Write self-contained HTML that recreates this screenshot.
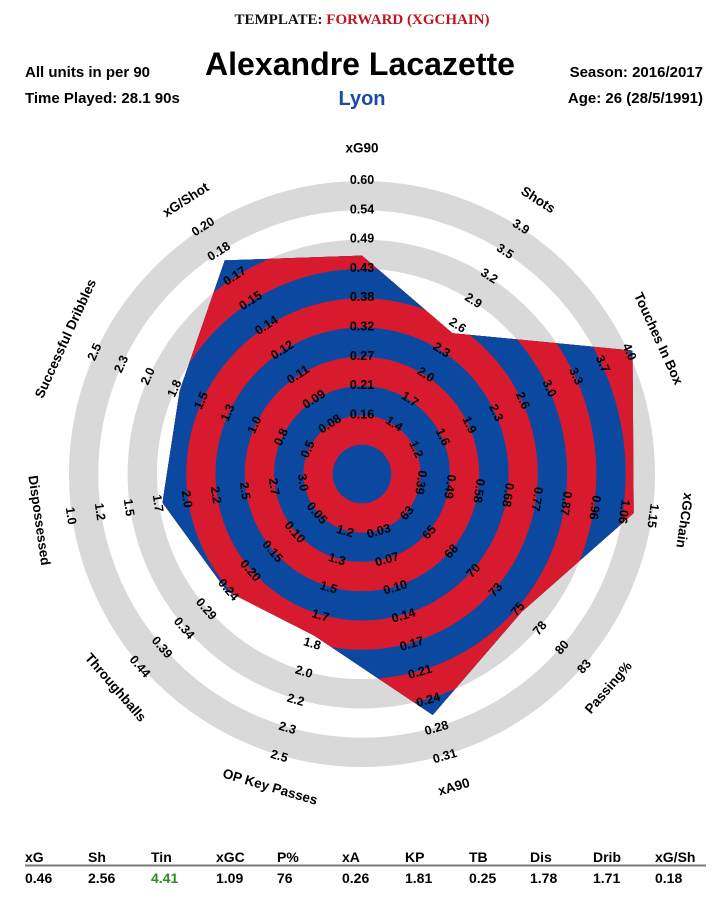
<!DOCTYPE html>
<html><head><meta charset="utf-8"><style>
html,body{margin:0;padding:0;background:#fff;}
svg{display:block;font-family:"Liberation Sans",Arial,sans-serif;}
</style></head><body>
<svg id="chart" width="725" height="906" viewBox="0 0 725 906" xmlns="http://www.w3.org/2000/svg">
<text x="362" y="24" text-anchor="middle" font-family="Liberation Serif,serif" font-weight="bold" font-size="15"><tspan fill="#111">TEMPLATE: </tspan><tspan fill="#c0141e">FORWARD (XGCHAIN)</tspan></text>
<text x="360" y="75" text-anchor="middle" font-weight="bold" font-size="32" textLength="310" lengthAdjust="spacingAndGlyphs" fill="#000">Alexandre Lacazette</text>
<text x="362" y="105" text-anchor="middle" font-weight="bold" font-size="20" fill="#1a4da0">Lyon</text>
<text x="25" y="77" font-weight="bold" font-size="15" fill="#000">All units in per 90</text>
<text x="25" y="103" font-weight="bold" font-size="15" fill="#000">Time Played: 28.1 90s</text>
<text x="703" y="77" text-anchor="end" font-weight="bold" font-size="15" fill="#000">Season: 2016/2017</text>
<text x="703" y="103" text-anchor="end" font-weight="bold" font-size="15" fill="#000">Age: 26 (28/5/1991)</text>
<g id="radar"></g>
<g id="table"></g>
</svg>
<script>
const axisNames = ["xG90","Shots","Touches In Box","xGChain","Passing%","xA90","OP Key Passes","Throughballs","Dispossessed","Successful Dribbles","xG/Shot"];
const axisMin = [0.16,1.4,1.2,0.39,63,0.03,1.2,0.05,3.0,0.5,0.08];
const axisMax = [0.60,3.9,4.0,1.15,83,0.31,2.5,0.44,1.0,2.5,0.20];
const playerValues = [0.46,2.56,4.41,1.09,76,0.26,1.81,0.25,1.78,1.71,0.18];
const tickLabels = [
 ["0.16","0.21","0.27","0.32","0.38","0.43","0.49","0.54","0.60"],
 ["1.4","1.7","2.0","2.3","2.6","2.9","3.2","3.5","3.9"],
 ["1.2","1.6","1.9","2.3","2.6","3.0","3.3","3.7","4.0"],
 ["0.39","0.49","0.58","0.68","0.77","0.87","0.96","1.06","1.15"],
 ["63","65","68","70","73","75","78","80","83"],
 ["0.03","0.07","0.10","0.14","0.17","0.21","0.24","0.28","0.31"],
 ["1.2","1.3","1.5","1.7","1.8","2.0","2.2","2.3","2.5"],
 ["0.05","0.10","0.15","0.20","0.24","0.29","0.34","0.39","0.44"],
 ["3.0","2.7","2.5","2.2","2.0","1.7","1.5","1.2","1.0"],
 ["0.5","0.8","1.0","1.3","1.5","1.8","2.0","2.3","2.5"],
 ["0.08","0.09","0.11","0.12","0.14","0.15","0.17","0.18","0.20"]];
const tableHeaders = ["xG","Sh","Tin","xGC","P%","xA","KP","TB","Dis","Drib","xG/Sh"];
const tableValues = ["0.46","2.56","4.41","1.09","76","0.26","1.81","0.25","1.78","1.71","0.18"];

const NS="http://www.w3.org/2000/svg";
const CX=362, CY=474, STEP=29.3, NB=10;
const BLUE="#0b489f", RED="#d81a2e", GRAY="#d9d9d9";
function mk(tag, parent){const e=document.createElementNS(NS,tag);parent.appendChild(e);return e;}
function angleOf(i){return i*360/axisNames.length;}
function pt(i,r){const a=angleOf(i)*Math.PI/180;return [CX+r*Math.sin(a), CY-r*Math.cos(a)];}
function rScale(i,v){let lv=2+8*(v-axisMin[i])/(axisMax[i]-axisMin[i]);lv=Math.max(0,Math.min(10.15,lv));return lv*STEP;}
function rotOf(i){const a=angleOf(i);return (a>110&&a<270)?a-180:(a>270?a-360:a);}

const g=document.getElementById('radar');
// background gray rings
[7,9].forEach(j=>{
  const c=mk('circle',g);
  
  
  c.setAttribute('cx',CX);c.setAttribute('cy',CY);c.setAttribute('r',(j+0.5)*STEP);
  c.setAttribute('fill','none');c.setAttribute('stroke',GRAY);c.setAttribute('stroke-width',STEP);
});
// clip polygon from data
const defs=mk('defs',g);
const cp=mk('clipPath',defs);cp.setAttribute('id','polyclip');
const poly=mk('polygon',cp);
poly.setAttribute('points',playerValues.map((v,i)=>pt(i,rScale(i,v)).join(',')).join(' '));
const bands=mk('g',g);


bands.setAttribute('clip-path','url(#polyclip)');
for(let j=NB+1;j>=0;j--){
  const c=mk('circle',bands);
  
  
  c.setAttribute('cx',CX);c.setAttribute('cy',CY);c.setAttribute('r',(j+1)*STEP);
  c.setAttribute('fill',j%2===0?BLUE:RED);
}
// tick labels
axisNames.forEach((name,i)=>{
  tickLabels[i].forEach((lab,k)=>{
    const [x,y]=pt(i,(k+2)*STEP+1);
    const t=mk('text',g);
    
    
    t.setAttribute('x',x);t.setAttribute('y',y);
    t.setAttribute('text-anchor','middle');t.setAttribute('dominant-baseline','central');
    t.setAttribute('font-size','12.5');t.setAttribute('font-weight','bold');t.setAttribute('fill','#000');
    t.setAttribute('transform','rotate('+rotOf(i)+' '+x+' '+y+')');
    t.textContent=lab;
  });
  const [x,y]=pt(i,326);
  const t=mk('text',g);
  
  
  t.setAttribute('x',x);t.setAttribute('y',y);
  t.setAttribute('text-anchor','middle');t.setAttribute('dominant-baseline','central');
  t.setAttribute('font-size','13.5');t.setAttribute('font-weight','bold');t.setAttribute('fill','#000');
  t.setAttribute('transform','rotate('+rotOf(i)+' '+x+' '+y+')');
  t.textContent=name;
});
// table
const tb=document.getElementById('table');
const colX=[25,88,151,216,277,342,405,469,530,593,655];
const line=mk('line',tb);


line.setAttribute('x1',25);line.setAttribute('x2',706);line.setAttribute('y1',865.5);line.setAttribute('y2',865.5);
line.setAttribute('stroke','#777');line.setAttribute('stroke-width','2');
tableHeaders.forEach((h,i)=>{
  const t=mk('text',tb);
  
  
  t.setAttribute('x',colX[i]);t.setAttribute('y',862);
  t.setAttribute('font-size','14');t.setAttribute('font-weight','bold');t.setAttribute('fill','#000');
  t.textContent=h;
  const v=mk('text',tb);
  
  
  v.setAttribute('x',colX[i]);v.setAttribute('y',883);
  v.setAttribute('font-size','14');v.setAttribute('font-weight','bold');
  v.setAttribute('fill',h==="Tin"?"#2e8b1e":"#000");
  v.textContent=tableValues[i];
});
</script>
</body></html>
